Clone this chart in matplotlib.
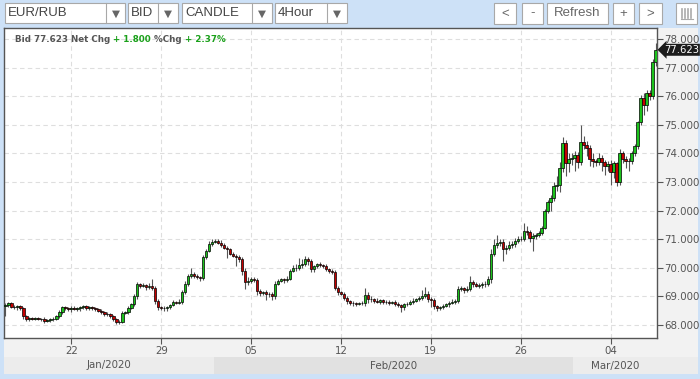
import numpy as np
import pandas as pd
import matplotlib
matplotlib.use('agg')
from matplotlib import pyplot as plt
from matplotlib import transforms
from matplotlib.patches import Rectangle

# 4-hour EUR/RUB candles, Jan 16 2020 08:00 -> Mar 6 2020
first_open = 68.65
closes = [
    68.70, 68.76, 68.64, 68.62, 68.66, 68.58, 68.30, 68.20, 68.24, 68.22,
    68.23, 68.20, 68.22, 68.15, 68.18, 68.21, 68.20, 68.30, 68.45, 68.62,
    68.58, 68.55, 68.60, 68.56, 68.58, 68.62, 68.65, 68.60, 68.62, 68.58,
    68.55, 68.50, 68.45, 68.40, 68.38, 68.30, 68.20, 68.10, 68.12, 68.42,
    68.45, 68.60, 68.72, 69.00, 69.42, 69.38, 69.40, 69.33, 69.36, 69.30,
    68.85, 68.62, 68.60, 68.58, 68.62, 68.70, 68.80, 68.78, 68.82, 69.15,
    69.45, 69.70, 69.78, 69.72, 69.68, 69.65, 70.38, 70.60, 70.82, 70.90,
    70.95, 70.88, 70.80, 70.70, 70.65, 70.50, 70.42, 70.38, 70.30, 69.90,
    69.50, 69.55, 69.62, 69.58, 69.20, 69.12, 69.15, 69.08, 69.10, 69.00,
    69.45, 69.55, 69.60, 69.58, 69.62, 69.90, 70.00, 69.98, 70.10, 70.15,
    70.30, 70.25, 69.95, 70.05, 70.12, 70.10, 70.08, 69.95, 69.90, 69.85,
    69.30, 69.15, 69.10, 68.95, 68.85, 68.78, 68.76, 68.75, 68.77, 68.76,
    69.05, 68.92, 68.90, 68.85, 68.82, 68.86, 68.80, 68.82, 68.78, 68.80,
    68.75, 68.70, 68.62, 68.72, 68.75, 68.80, 68.85, 68.90, 68.95, 69.02,
    69.08, 68.90, 68.88, 68.65, 68.58, 68.62, 68.68, 68.72, 68.78, 68.82,
    68.85, 69.25, 69.28, 69.22, 69.26, 69.50, 69.42, 69.38, 69.40, 69.42,
    69.45, 69.62, 70.50, 70.80, 70.85, 70.90, 70.65, 70.70, 70.80, 70.82,
    70.95, 71.00, 71.02, 71.30, 71.25, 71.05, 71.12, 71.15, 71.20, 71.40,
    72.00, 72.30, 72.45, 72.85, 72.90, 73.50, 74.37, 73.65, 73.80, 73.85,
    73.95, 73.70, 74.40, 74.30, 74.20, 73.80, 73.72, 73.70, 73.85, 73.70,
    73.55, 73.62, 73.35, 73.65, 73.00, 74.00, 73.80, 73.75, 73.72, 74.00,
    74.25, 75.10, 75.95, 75.70, 76.10, 76.00, 77.20, 77.623,
]
# wick lengths above / below the body, in hundredths of a rouble
wick_up = [
    8, 6, 5, 6, 4, 5, 6, 4, 5, 4,
    4, 5, 3, 5, 4, 4, 6, 5, 6, 4,
    6, 5, 8, 5, 4, 6, 5, 4, 5, 6,
    4, 5, 6, 4, 5, 4, 6, 5, 4, 8,
    5, 6, 4, 8, 10, 6, 8, 5, 12, 25,
    8, 6, 5, 6, 5, 4, 6, 5, 8, 6,
    8, 10, 20, 8, 6, 5, 8, 6, 10, 12,
    6, 5, 8, 6, 5, 4, 6, 5, 6, 8,
    10, 12, 6, 5, 8, 6, 5, 8, 6, 5,
    8, 6, 5, 6, 8, 6, 10, 12, 25, 15,
    10, 8, 6, 5, 6, 8, 5, 6, 5, 6,
    8, 6, 5, 6, 5, 4, 5, 4, 5, 6,
    25, 10, 8, 6, 8, 5, 6, 5, 4, 5,
    6, 4, 5, 6, 5, 6, 8, 5, 8, 20,
    25, 10, 8, 6, 5, 5, 6, 5, 6, 8,
    6, 10, 8, 6, 10, 20, 8, 10, 6, 8,
    8, 10, 15, 20, 30, 12, 10, 8, 12, 10,
    8, 10, 10, 25, 15, 8, 10, 8, 8, 6,
    6, 8, 10, 15, 30, 20, 20, 10, 20, 15,
    15, 10, 60, 20, 15, 10, 20, 10, 15, 10,
    8, 10, 15, 10, 5, 15, 10, 10, 8, 10,
    8, 5, 10, 15, 10, 10, 10, 25,
]
wick_dn = [
    35, 6, 5, 6, 8, 5, 8, 6, 5, 4,
    5, 4, 6, 8, 5, 6, 5, 4, 6, 5,
    6, 5, 8, 5, 6, 8, 5, 6, 8, 5,
    6, 5, 6, 8, 5, 6, 5, 8, 6, 5,
    5, 6, 4, 5, 10, 8, 6, 10, 8, 6,
    10, 8, 6, 10, 8, 6, 5, 6, 5, 8,
    6, 8, 5, 8, 6, 10, 8, 6, 5, 6,
    5, 6, 8, 6, 30, 6, 5, 30, 10, 15,
    25, 10, 8, 6, 15, 10, 8, 20, 10, 12,
    8, 6, 5, 10, 8, 6, 5, 8, 5, 10,
    8, 15, 10, 8, 6, 8, 10, 6, 8, 8,
    8, 10, 6, 8, 10, 8, 10, 8, 6, 5,
    8, 15, 10, 8, 6, 10, 8, 6, 8, 6,
    8, 6, 15, 8, 6, 5, 8, 6, 5, 6,
    6, 8, 25, 10, 8, 6, 5, 6, 8, 6,
    10, 8, 6, 10, 8, 6, 8, 6, 8, 10,
    8, 10, 15, 8, 10, 10, 40, 15, 8, 10,
    8, 10, 8, 10, 12, 15, 45, 10, 8, 6,
    5, 10, 30, 10, 15, 25, 15, 45, 30, 20,
    45, 20, 10, 15, 30, 25, 20, 15, 10, 30,
    30, 15, 45, 20, 15, 10, 15, 25, 35, 10,
    8, 10, 10, 35, 20, 15, 10, 15,
]
tick_days = ['2020-01-22', '2020-01-29', '2020-02-05', '2020-02-12',
             '2020-02-19', '2020-02-26', '2020-03-04']
y_ticks = [68, 69, 70, 71, 72, 73, 74, 75, 76, 77, 78]
symbol, side, style, period = 'EUR/RUB', 'BID', 'CANDLE', '4Hour'
bid, net_chg, pct_chg = 77.623, 1.800, 2.37

W, H = 700, 379
BLUE = '#cde1f7'
UP, DOWN = '#1cc21c', '#c40000'


def fx(px):
    return px / W


def fy(py):
    return 1 - py / H


def rect(fig, x0, y0, x1, y1, fc='white', ec='#a8a8a8', lw=0.8, z=1):
    fig.add_artist(Rectangle((fx(x0), fy(y1)), fx(x1) - fx(x0), fy(y0) - fy(y1),
                             transform=fig.transFigure, fc=fc, ec=ec, lw=lw, zorder=z))


def toolbar(fig):
    drops = [(symbol, 5, 106, 125), (side, 128, 158, 178),
             (style, 182, 252, 272), (period, 275, 327, 347)]
    for label, x0, xd, x1 in drops:
        rect(fig, x0, 3, x1, 23)
        fig.add_artist(plt.Line2D([fx(xd), fx(xd)], [fy(3), fy(23)], color='#a8a8a8',
                                  lw=0.8, transform=fig.transFigure))
        fig.text(fx(x0 + 3), fy(13.5), label, fontsize=9.5, family='Liberation Sans',
                 color='#444', va='center')
        fig.text(fx((xd + x1) / 2), fy(13.5), '\u25bc', fontsize=7.5, color='#666',
                 ha='center', va='center')
    buttons = [('<', 494, 516), ('-', 522, 543), ('Refresh', 547, 608),
               ('+', 613, 634), ('>', 639, 662)]
    for label, x0, x1 in buttons:
        rect(fig, x0, 3, x1, 24)
        fig.text(fx((x0 + x1) / 2), fy(13.5), label, fontsize=9.5, family='Liberation Sans',
                 color='#666', ha='center', va='center')
    rect(fig, 676, 3, 697, 24)
    for xb in (682, 685, 688, 691):
        fig.add_artist(plt.Line2D([fx(xb), fx(xb)], [fy(9), fy(18)], color='#aaa',
                                  lw=1.2, transform=fig.transFigure))
    fig.add_artist(plt.Line2D([fx(681), fx(693)], [fy(18.5), fy(18.5)], color='#aaa',
                              lw=0.8, transform=fig.transFigure))


def info_line(fig):
    parts = [(f'Bid {bid:.3f} Net Chg ', '#555'), (f'+ {net_chg:.3f} ', '#1aa01a'),
             ('%Chg ', '#555'), (f'+ {pct_chg:.2f}%', '#1aa01a')]
    r = fig.canvas.get_renderer()
    x = fx(15)
    for txt, col in parts:
        t = fig.text(x, fy(39), txt, fontsize=6.3, color=col, va='center',
                     fontweight='semibold')
        bb = t.get_window_extent(r)
        x += bb.width / fig.bbox.width


fig = plt.figure(figsize=(W / 100, H / 100), dpi=100, facecolor=BLUE)
toolbar(fig)

# light axis strips (right labels, bottom labels)
rect(fig, 4, 28, 698, 357, fc='#f2f2f2', ec='none', lw=0, z=-2)

ax = fig.add_axes([fx(4), fy(338), fx(657) - fx(4), fy(28) - fy(338)])
ax.set_facecolor('white')

c = np.array(closes)
o = np.r_[first_open, c[:-1]]
hi = np.maximum(o, c) + np.array(wick_up) / 100
lo = np.minimum(o, c) - np.array(wick_dn) / 100
n = len(c)
idx = np.arange(n)

days = pd.bdate_range('2020-01-16', '2020-03-06')
times = pd.DatetimeIndex([d + pd.Timedelta(hours=h) for d in days for h in range(0, 24, 4)])
times = times[2:2 + n]

ax.vlines(idx, lo, hi, color='#555', lw=0.8, zorder=2)
body = np.maximum(np.abs(c - o), 0.015)
cols = [UP if cc >= oo else DOWN for oo, cc in zip(o, c)]
ax.bar(idx, body, bottom=np.minimum(o, c), width=0.8, color=cols,
       edgecolor='black', lw=0.5, zorder=3)

ax.set_xlim(-0.5, n - 0.5)
ax.set_ylim(68 - 13 / 28.6, 78 + 11 / 28.6)

tpos = [int(np.searchsorted(times, pd.Timestamp(d))) for d in tick_days]
ax.set_xticks(tpos)
ax.set_xticklabels([pd.Timestamp(d).strftime('%d') for d in tick_days])
ax.set_yticks(y_ticks)
ax.set_yticklabels([f'{v:.3f}' for v in y_ticks])
ax.yaxis.tick_right()
ax.tick_params(axis='y', length=4, pad=1, labelsize=7.4, colors='#555')
ax.tick_params(axis='x', length=4, pad=2, labelsize=7.4, colors='#555')
ax.grid(True, ls=(0, (4, 3)), color='#dedede', lw=0.8)
ax.set_axisbelow(True)
for sp in ax.spines.values():
    sp.set_color('#555')
    sp.set_linewidth(1)

# month band
rect(fig, 4, 357, 698, 374, fc='#ececec', ec='none', lw=0, z=-1)
blend = transforms.blended_transform_factory(ax.transData, fig.transFigure)
months = times.to_period('M')
starts = [0] + [i for i in range(1, n) if months[i] != months[i - 1]]
ends = starts[1:] + [n]
for k, (s, e) in enumerate(zip(starts, ends)):
    if k % 2 == 1:
        fig.add_artist(Rectangle((s - 0.5, fy(374)), e - s, fy(357) - fy(374),
                                 transform=blend, fc='#e1e1e1', ec='none', zorder=-1))
    fig.text((s + e - 1) / 2, fy(365.5), times[s].strftime('%b/%Y'), fontsize=7.4,
             color='#555', ha='center', va='center', transform=blend)

# last price tag
tag = transforms.blended_transform_factory(ax.transAxes, ax.transData)
ax.text(1.0105, c[-1], f'{c[-1]:.3f}', transform=tag, fontsize=7.2, color='white',
        va='center', ha='left', zorder=5, clip_on=False,
        bbox=dict(boxstyle='larrow,pad=0.1', fc='#1c1c1c', ec='none'))

info_line(fig)

plt.savefig('out.png', dpi=100, facecolor=BLUE)
plt.close()
